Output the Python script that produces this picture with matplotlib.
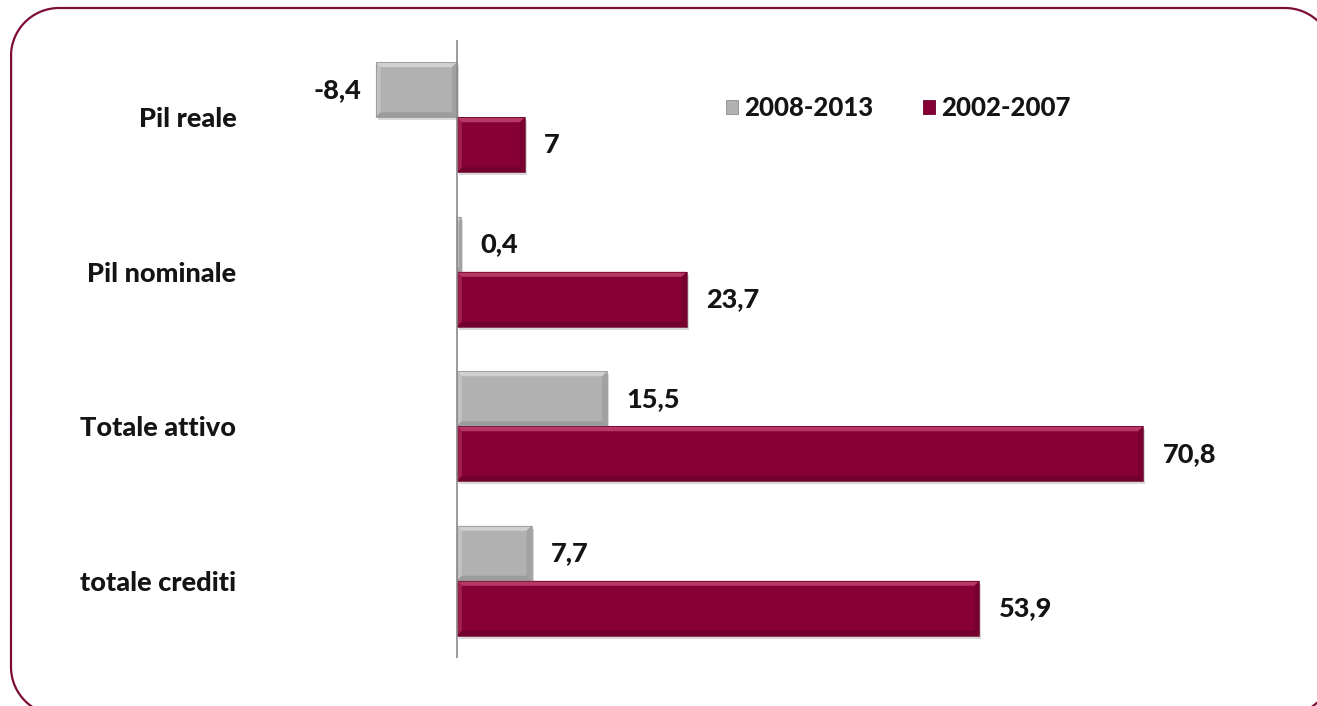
import numpy as np
import matplotlib
matplotlib.use("Agg")
import matplotlib.pyplot as plt
from matplotlib.patches import Polygon, Rectangle, Patch

plt.rcParams['font.family'] = ['Lato', 'DejaVu Sans']

categories = ["Pil reale", "Pil nominale", "Totale attivo", "totale crediti"]
series_names = ["2008-2013", "2002-2007"]
vals_0813 = [-8.4, 0.4, 15.5, 7.7]
vals_0207 = [7, 23.7, 70.8, 53.9]

GRAY = dict(face="#b1b1b1", light="#d6d6d6", dark="#8e8e8e")
MAROON = dict(face="#860035", light="#c0426e", dark="#660027")
FRAME = "#7d0c39"
TXT = "#141414"
FS = 19.5
WEIGHT = "black"

W, H = 1317, 706
fig = plt.figure(figsize=(W / 100, H / 100), dpi=100)

# background axes in pixel units for the rounded frame
bg = fig.add_axes([0, 0, 1, 1], zorder=-1)
bg.set_xlim(0, W)
bg.set_ylim(H, 0)
bg.axis("off")


def rounded_outline(x0, y0, x1, y1, r, n=120):
    xs, ys = [], []
    corners = [((x1 - r, y0 + r), -90, 0), ((x1 - r, y1 - r), 0, 90),
               ((x0 + r, y1 - r), 90, 180), ((x0 + r, y0 + r), 180, 270)]
    for (cx, cy), a0, a1 in corners:
        t = np.radians(np.linspace(a0, a1, n))
        xs.extend(cx + r * np.cos(t))
        ys.extend(cy + r * np.sin(t))
    xs, ys = np.array(xs + xs[:1]), np.array(ys + ys[:1])
    # the frame runs off the right and bottom edges: keep only the visible part
    off = (xs > W + 1) | (ys > H + 1)
    xs[off] = np.nan
    ys[off] = np.nan
    return xs, ys


fx, fy = rounded_outline(11, 8, 1333, 715, 48)
bg.plot(fx, fy, color=FRAME, lw=1.6, solid_capstyle="butt")

ax = fig.add_axes([360 / W, (H - 658) / H, 825 / W, 618 / H])
ax.patch.set_alpha(0)

y = np.arange(len(categories))
bh = 0.356
ax.set_xlim(-10, 75.1)
ax.set_ylim(3.5, -0.5)


def px_to_data(ax):
    p0 = ax.transData.transform((0, 0))
    p1 = ax.transData.transform((1, 1))
    return 1 / abs(p1[0] - p0[0]), 1 / abs(p1[1] - p0[1])


ux, uy = px_to_data(ax)


def bevel_bar(ax, x0, w, yc, h, col):
    # flat face + bevelled edges + soft drop shadow
    left, right = min(x0, x0 + w), max(x0, x0 + w)
    top, bot = yc - h / 2, yc + h / 2
    ax.add_patch(Rectangle((left + 2 * ux, top + 3 * uy), right - left, h,
                           facecolor="#000000", alpha=0.15, lw=0, zorder=1))
    ax.add_patch(Rectangle((left, top), right - left, h, facecolor=col["face"],
                           lw=0, zorder=2))
    bx = min(5 * ux, (right - left) / 2)
    by = 5 * uy
    pts = dict(tl=(left, top), tr=(right, top), br=(right, bot), bl=(left, bot),
               itl=(left + bx, top + by), itr=(right - bx, top + by),
               ibr=(right - bx, bot - by), ibl=(left + bx, bot - by))
    edges = [(("tl", "tr", "itr", "itl"), col["light"], 0.85),
             (("tl", "itl", "ibl", "bl"), col["light"], 0.45),
             (("bl", "ibl", "ibr", "br"), col["dark"], 0.6),
             (("tr", "br", "ibr", "itr"), col["dark"], 0.45)]
    for keys, c, a in edges:
        ax.add_patch(Polygon([pts[k] for k in keys], closed=True, facecolor=c,
                             lw=0, alpha=a, zorder=3))
    ax.add_patch(Rectangle((left, top), right - left, h, facecolor="none",
                           edgecolor=col["dark"], lw=0.5, zorder=4))


def fmt(v):
    return f"{v:g}".replace(".", ",")


for i in range(len(categories)):
    for v, off, col in [(vals_0813[i], -bh / 2, GRAY), (vals_0207[i], bh / 2, MAROON)]:
        bevel_bar(ax, 0, v, y[i] + off, bh, col)
        ax.annotate(fmt(v), (v, y[i] + off), xytext=(14 if v >= 0 else -10, 0),
                    textcoords="offset points", va="center",
                    ha="left" if v >= 0 else "right",
                    fontsize=FS, fontweight=WEIGHT, color=TXT)

ax.axvline(0, color="#8a8a8a", lw=1.2, zorder=5)
for s in ax.spines.values():
    s.set_visible(False)
ax.set_xticks([])
ax.set_yticks(y)
ax.set_yticklabels(categories, fontsize=FS, fontweight=WEIGHT, color=TXT)
ax.tick_params(axis="y", length=0, pad=89)

handles = [Patch(facecolor=GRAY["face"], edgecolor=GRAY["dark"], lw=0.6),
           Patch(facecolor=MAROON["face"], edgecolor=MAROON["dark"], lw=0.6)]
fig.legend(handles, series_names, loc="center left",
           bbox_to_anchor=(726 / W, 1 - 108 / H), ncol=2, frameon=False,
           prop=dict(size=18.5, weight=WEIGHT), handlelength=0.45, handleheight=0.45,
           handletextpad=0.25, columnspacing=1.95, borderpad=0, borderaxespad=0)
for t in fig.legends[0].get_texts():
    t.set_color(TXT)

fig.savefig("out.png", dpi=100, bbox_inches=None)
